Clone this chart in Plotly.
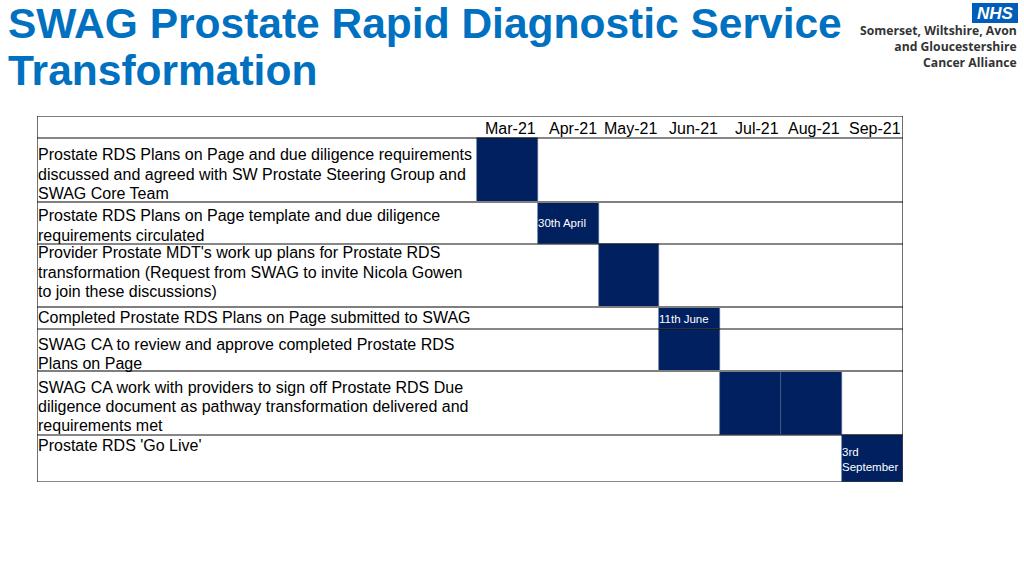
import plotly.graph_objects as go

# ---------------- data ----------------
months = ["Mar-21", "Apr-21", "May-21", "Jun-21", "Jul-21", "Aug-21", "Sep-21"]
tasks = [
    ["Prostate RDS Plans on Page and due diligence requirements",
     "discussed and agreed with SW Prostate Steering Group and",
     "SWAG Core Team"],
    ["Prostate RDS Plans on Page template and due diligence",
     "requirements circulated"],
    ["Provider Prostate MDT's work up plans for Prostate RDS",
     "transformation (Request from SWAG to invite Nicola Gowen",
     "to join these discussions)"],
    ["Completed Prostate RDS Plans on Page submitted to SWAG"],
    ["SWAG CA to review and approve completed Prostate RDS",
     "Plans on Page"],
    ["SWAG CA work with providers to sign off Prostate RDS Due",
     "diligence document as pathway transformation delivered and",
     "requirements met"],
    ["Prostate RDS 'Go Live'"],
]
task_start = [0, 1, 2, 3, 3, 4, 6]   # month index (Mar-21 = 0)
task_end = [0, 1, 2, 3, 3, 5, 6]     # inclusive month index
block_labels = ["", "30th April", "", "11th June", "", "", "3rd<br>September"]

title_lines = ["SWAG Prostate Rapid Diagnostic Service", "Transformation"]
logo_lines = ["Somerset, Wiltshire, Avon", "and Gloucestershire", "Cancer Alliance"]

# ---------------- layout constants ----------------
W, H = 1024, 576
TL, TR, TT, TB = 37, 903, 116, 482          # table box in px
MONTH_LEFT = 476.7                            # left edge of first month column (px)
HEADER_H = 22
ROW_H = [64, 42, 63, 22, 42, 64, 47]
LABEL_FIRST = [17, 14, 9, 10, 15, 16, 10]     # first text line centre below row top
LINE_SP = 19.2
NAVY = "#002060"
FONT = "Liberation Sans, Arial, sans-serif"

month_px = (TR - MONTH_LEFT) / len(months)
x_left = -(MONTH_LEFT - TL) / month_px
x_right = len(months)

def px_x(x):
    return x / W

def px_y(y):
    return 1 - y / H

row_tops = []
acc = HEADER_H
for h in ROW_H:
    row_tops.append(acc)
    acc += h
total_h = acc

fig = go.Figure()

# bars: one cell per month for each task
for i in range(len(tasks)):
    cells = list(range(task_start[i], task_end[i] + 1))
    fig.add_trace(go.Bar(
        orientation="h",
        y=[row_tops[i] + ROW_H[i] / 2] * len(cells),
        x=[1] * len(cells),
        base=cells,
        width=[ROW_H[i]] * len(cells),
        marker=dict(color=NAVY, line=dict(color="#4a5f8f", width=0.6)),
        hoverinfo="skip",
        showlegend=False,
    ))

annotations = []
shapes = []

# block labels
for i, lab in enumerate(block_labels):
    if lab:
        annotations.append(dict(
            x=task_start[i], y=row_tops[i] + ROW_H[i] / 2 + 0.5, xref="x", yref="y",
            text=lab, showarrow=False, xanchor="left", yanchor="middle", align="left",
            font=dict(family=FONT, size=11.5, color="white"), xshift=-2,
        ))

# task labels (one annotation per text line)
for i, lines in enumerate(tasks):
    for k, ln in enumerate(lines):
        annotations.append(dict(
            x=x_left, y=row_tops[i] + LABEL_FIRST[i] + k * LINE_SP, xref="x", yref="y",
            text=ln, showarrow=False, xanchor="left", yanchor="middle", align="left",
            font=dict(family=FONT, size=16, color="black"), xshift=-1,
        ))

# month headers
for j, m in enumerate(months):
    annotations.append(dict(
        x=j + 1, y=HEADER_H / 2 + 2, xref="x", yref="y",
        text=m, showarrow=False, xanchor="right", yanchor="middle",
        font=dict(family=FONT, size=16, color="black"), xshift=0,
    ))

# horizontal lines
bounds = [0, HEADER_H] + [row_tops[i] + ROW_H[i] for i in range(len(ROW_H))]
styles = ["gray", "black", "gray", "black", "gray", "black", "gray", "black", "black"]
for yb, st in zip(bounds, styles):
    shapes.append(dict(
        type="line", xref="x", yref="y", x0=x_left, x1=x_right, y0=yb, y1=yb,
        line=dict(color="#7f7f7f" if st == "gray" else "#111111", width=2 if st == "gray" else 1.2),
        layer="above",
    ))
for xb in (x_left, x_right):
    shapes.append(dict(
        type="line", xref="x", yref="y", x0=xb, x1=xb, y0=0, y1=total_h,
        line=dict(color="#222222", width=1.3), layer="above",
    ))

# title
for k, tl in enumerate(title_lines):
    annotations.append(dict(
        x=px_x(6), y=px_y(23 + k * 48), xref="paper", yref="paper",
        text="<b>" + tl + "</b>", showarrow=False, xanchor="left", yanchor="middle", align="left",
        font=dict(family=FONT, size=42.5, color="#0070C0"),
    ))

# logo
shapes.append(dict(type="rect", xref="paper", yref="paper",
                   x0=px_x(972), x1=px_x(1018), y0=px_y(23), y1=px_y(3),
                   fillcolor="#005EB8", line=dict(width=0), layer="above"))
annotations.append(dict(
    x=px_x(995), y=px_y(13.5), xref="paper", yref="paper",
    text="<b><i>NHS</i></b>", showarrow=False, xanchor="center", yanchor="middle",
    font=dict(family=FONT, size=17, color="white"),
))
annotations.append(dict(
    x=px_x(1019), y=px_y(46.5), xref="paper", yref="paper",
    text="<b>" + "<br>".join(logo_lines) + "</b>", showarrow=False,
    xanchor="right", yanchor="middle", align="right",
    font=dict(family="Open Sans, Liberation Sans, sans-serif", size=12.2, color="#333333"),
))

fig.update_layout(
    width=W, height=H,
    margin=dict(l=0, r=0, t=0, b=0),
    paper_bgcolor="white", plot_bgcolor="white",
    barmode="overlay", bargap=0,
    xaxis=dict(range=[x_left, x_right], domain=[px_x(TL), px_x(TR)], visible=False, fixedrange=True),
    yaxis=dict(range=[total_h, 0], domain=[px_y(TB), px_y(TT)], visible=False, fixedrange=True),
    annotations=annotations,
    shapes=shapes,
    showlegend=False,
)

fig.write_html("out.html", config={"displayModeBar": False},
               post_script="document.body.style.margin='0';")
